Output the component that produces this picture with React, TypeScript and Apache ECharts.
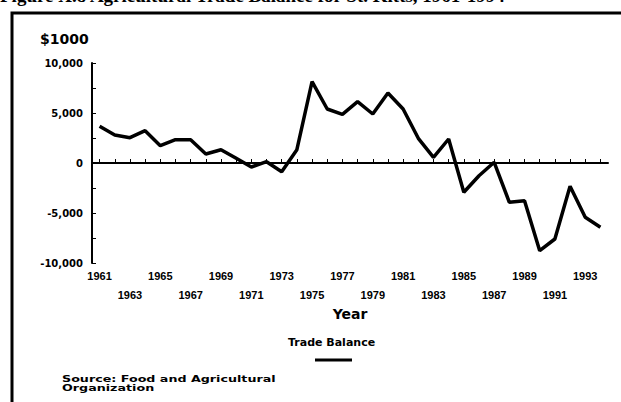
import React, { useEffect, useRef } from "react";
import * as echarts from "echarts";

const years = [
  "1961", "1962", "1963", "1964", "1965", "1966", "1967", "1968", "1969", "1970",
  "1971", "1972", "1973", "1974", "1975", "1976", "1977", "1978", "1979", "1980",
  "1981", "1982", "1983", "1984", "1985", "1986", "1987", "1988", "1989", "1990",
  "1991", "1992", "1993", "1994",
];
const tradeBalance = [
  3670, 2800, 2530, 3230, 1730, 2330, 2330, 900, 1330, 470,
  -400, 130, -870, 1330, 8130, 5400, 4870, 6130, 4900, 7000,
  5400, 2470, 570, 2400, -2930, -1270, 70, -3930, -3770, -8770,
  -7600, -2330, -5430, -6430,
];
const yTickLabels = [-10000, -5000, 0, 5000, 10000];

const SANS = "DejaVu Sans";

export default function App() {
  const ref = useRef<HTMLDivElement>(null);
  useEffect(() => {
    if (!ref.current) return;
    const chart = echarts.init(ref.current, undefined, { renderer: "svg" });
    chart.setOption({
      animation: false,
      backgroundColor: "#ffffff",
      grid: { left: 92, right: 13, top: 63, bottom: 139 },
      xAxis: {
        type: "category",
        data: years,
        boundaryGap: true,
        name: "Year",
        nameLocation: "middle",
        nameGap: 44,
        nameTextStyle: { fontFamily: SANS, fontWeight: "bold", fontSize: 14, color: "#000" },
        axisLine: { lineStyle: { color: "#000", width: 2 } },
        axisTick: { show: true, inside: true, length: 4, interval: 0, alignWithLabel: true, lineStyle: { color: "#000", width: 1 } },
        axisLabel: {
          interval: 0,
          margin: 3,
          fontFamily: "Liberation Sans",
          fontWeight: "bold",
          fontSize: 11,
          color: "#000",
          lineHeight: 19,
          formatter: (v: string, i: number) => (i % 4 === 0 ? v : i % 4 === 2 ? "\n" + v : ""),
        },
        splitLine: { show: false },
      },
      yAxis: {
        type: "value",
        min: -10000,
        max: 10000,
        interval: 2500,
        axisLine: { show: true, lineStyle: { color: "#000", width: 2 } },
        axisTick: { show: true, inside: true, length: 4, lineStyle: { color: "#000", width: 1 } },
        axisLabel: {
          margin: 9,
          fontFamily: SANS,
          fontWeight: "bold",
          fontSize: 10,
          color: "#000",
          formatter: (v: number) =>
            yTickLabels.includes(v) ? (v < 0 ? "-" : "") + Math.abs(v).toLocaleString("en-US") : "",
        },
        splitLine: { show: false },
      },
      series: [
        {
          type: "line",
          name: "Trade Balance",
          data: tradeBalance,
          symbol: "none",
          lineStyle: { color: "#000", width: 3.5 },
          markLine: {
            silent: true,
            symbol: "none",
            label: { show: false },
            lineStyle: { color: "#000", width: 2, type: "solid" },
            data: [{ yAxis: 0 }],
          },
        },
      ],
      graphic: [
        {
          type: "text",
          left: 0,
          top: -14,
          style: {
            text: "Figure X.8 Agricultural Trade Balance for St. Kitts, 1961-1994",
            fontFamily: "Liberation Serif",
            fontWeight: "bold",
            fontSize: 19,
            fill: "#000",
          },
        },
        {
          type: "rect",
          shape: { x: 12, y: 13, width: 700, height: 500 },
          style: { fill: "none", stroke: "#000", lineWidth: 3 },
        },
        {
          type: "text",
          left: 40,
          top: 32,
          style: { text: "$1000", fontFamily: SANS, fontWeight: "bold", fontSize: 14, fill: "#000" },
        },
        {
          type: "text",
          left: 288,
          top: 337,
          style: { text: "Trade Balance", fontFamily: SANS, fontWeight: "bold", fontSize: 11, fill: "#000" },
        },
        {
          type: "line",
          shape: { x1: 315, y1: 360, x2: 352, y2: 360 },
          style: { stroke: "#000", lineWidth: 3 },
        },
        {
          type: "text",
          x: 62,
          y: 375,
          scaleX: 1.41,
          style: {
            text: "Source: Food and Agricultural\nOrganization",
            fontFamily: SANS,
            fontWeight: "bold",
            fontSize: 9,
            lineHeight: 9,
            fill: "#000",
          },
        },
      ],
    });
    return () => chart.dispose();
  }, []);
  return (
    <div
      ref={ref}
      style={{ position: "absolute", left: 0, top: 0, width: 621, height: 402 }}
    />
  );
}
